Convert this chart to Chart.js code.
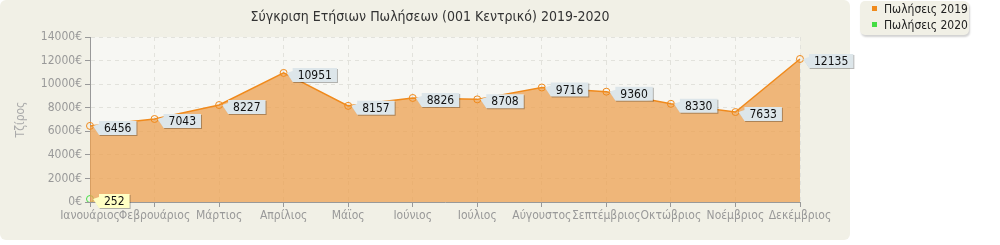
<!DOCTYPE html>
<html>
<head>
<meta charset="utf-8">
<script src="https://cdn.jsdelivr.net/npm/chart.js@4.4.0/dist/chart.umd.min.js"></script>
<style>
  body { margin: 0; background: #fff; font-family: "DejaVu Sans Condensed", "DejaVu Sans", sans-serif; }
  #panel { position: absolute; left: 0; top: 0; width: 850px; height: 240px; background: #f1f0e6; border-radius: 6px; }
  #wrap { position: absolute; left: 0; top: 0; width: 1000px; height: 240px; }
  #legend { position: absolute; left: 860px; top: 1px; width: 109px; height: 34px; background: #f1f0e6;
    border-radius: 5px; box-shadow: 1px 2px 2px rgba(0,0,0,0.18); font-size: 12px; color: #222; }
  #legend div { position: absolute; left: 12px; white-space: nowrap; }
  #legend span { display: inline-block; width: 5px; height: 5px; margin-right: 7px; vertical-align: 2px; }
</style>
</head>
<body>
<div id="panel"></div>
<div id="wrap"><canvas id="myChart1" width="1000" height="240"></canvas></div>
<div id="legend">
  <div style="top:1px"><span style="background:#f08a1c"></span>Πωλήσεις 2019</div>
  <div style="top:17px"><span style="background:#44dd44"></span>Πωλήσεις 2020</div>
</div>
<script>
var months = ["Ιανουάριος","Φεβρουάριος","Μάρτιος","Απρίλιος","Μάϊος","Ιούνιος","Ιούλιος","Αύγουστος","Σεπτέμβριος","Οκτώβριος","Νοέμβριος","Δεκέμβριος"];
var sales2019 = [6456,7043,8227,10951,8157,8826,8708,9716,9360,8330,7633,12135];
var sales2020 = [252,null,null,null,null,null,null,null,null,null,null,null];
var seriesNames = ["Πωλήσεις 2019","Πωλήσεις 2020"];
var chartTitle = "Σύγκριση Ετήσιων Πωλήσεων (001 Κεντρικό) 2019-2020";
var FONT = "DejaVu Sans Condensed";

// light plot background + title centred on the panel
var plotBg = {
  id: 'plotBg',
  beforeDraw: function(chart){
    var a = chart.chartArea, c = chart.ctx;
    c.save();
    c.fillStyle = "#f7f7f3";
    c.fillRect(a.left, a.top, a.right - a.left, a.bottom - a.top);
    c.fillStyle = "#333";
    c.font = "14px '" + FONT + "'";
    c.textAlign = "center";
    c.textBaseline = "middle";
    c.fillText(chartTitle, 430, 17);
    c.restore();
  }
};

// callout value labels
var callouts = {
  id: 'callouts',
  afterDatasetsDraw: function(chart){
    var c = chart.ctx;
    c.save();
    c.font = "12px '" + FONT + "'";
    c.textBaseline = "middle";
    chart.data.datasets.forEach(function(ds, di){
      var meta = chart.getDatasetMeta(di);
      meta.data.forEach(function(pt, i){
        var v = ds.data[i];
        if (v === null) return;
        var txt = String(v);
        var w = c.measureText(txt).width + 10;
        var x = pt.x, y = pt.y;
        var bx = x + 9, by = y - 5, bh = 14;
        var fill = di === 0 ? "#dde6ea" : "#ffffc4";
        function shape(dx, dy){
          c.beginPath();
          c.moveTo(x + 3 + dx, y + dy);
          c.lineTo(bx + dx, by + 3 + dy);
          c.lineTo(bx + dx, by + dy);
          c.lineTo(bx + w + dx, by + dy);
          c.lineTo(bx + w + dx, by + bh + dy);
          c.lineTo(bx + dx, by + bh + dy);
          c.closePath();
        }
        c.fillStyle = "rgba(0,0,0,0.28)";
        shape(1, 1);
        c.fill();
        c.fillStyle = fill;
        shape(0, 0);
        c.fill();
        c.fillStyle = "#111";
        c.fillText(txt, bx + 5, by + bh / 2 + 1);
      });
    });
    c.restore();
  }
};

var ctx = document.getElementById("myChart1").getContext('2d');
var myChart = new Chart(ctx, {
  type: 'line',
  data: {
    labels: months,
    datasets: [{
      label: seriesNames[0],
      data: sales2019,
      borderColor: "#f08a1c",
      backgroundColor: "rgba(236,160,80,0.75)",
      fill: 'origin',
      borderWidth: 1.5,
      pointRadius: 3.5,
      pointBorderWidth: 1,
      pointBackgroundColor: "rgba(255,255,255,0)",
      pointBorderColor: "#f08a1c",
      tension: 0
    }, {
      label: seriesNames[1],
      data: sales2020,
      borderColor: "#44dd44",
      backgroundColor: "rgba(68,221,68,0.4)",
      fill: false,
      borderWidth: 1.5,
      pointRadius: 3.5,
      pointBorderWidth: 1,
      pointBackgroundColor: "rgba(255,255,255,0)",
      pointBorderColor: "#44dd44"
    }]
  },
  options: {
    responsive: false,
    animation: false,
    layout: { padding: { left: 14, right: 200, top: 37, bottom: 0 } },
    plugins: {
      legend: { display: false },
      tooltip: { enabled: false },
      title: { display: false }
    },
    scales: {
      x: {
        offset: false,
        afterFit: function(s){ s.height = 38; },
        grid: { color: "#e2e2dc", tickColor: "#999", tickLength: 5 },
        border: { color: "#999", dash: [4, 4] },
        ticks: { color: "#999", font: { family: FONT, size: 12 }, maxRotation: 0, autoSkip: false, padding: 2 }
      },
      y: {
        min: 0, max: 14000,
        afterFit: function(s){ s.width = 76; },
        grid: { color: "#e2e2dc", tickColor: "#999", tickLength: 5 },
        border: { color: "#999", dash: [4, 4] },
        title: { display: true, text: "Τζίρος", color: "#aaa", font: { family: FONT, size: 12 }, padding: 0 },
        ticks: {
          stepSize: 2000, color: "#999", font: { family: FONT, size: 12 }, padding: 3,
          callback: function(v){ return v + "€"; }
        }
      }
    }
  },
  plugins: [plotBg, callouts]
});
</script>
</body>
</html>
